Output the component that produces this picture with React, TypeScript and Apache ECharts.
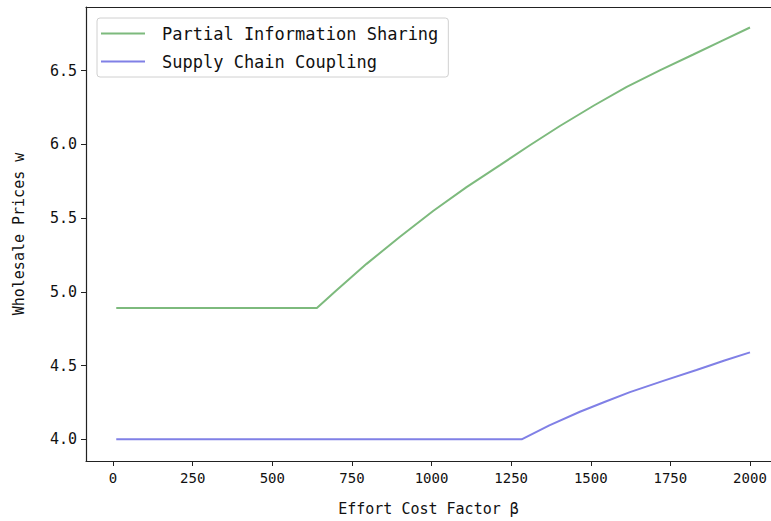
import React, { useEffect, useRef } from "react";
import * as echarts from "echarts";

const greenBeta = [10, 640, 700, 796, 900, 1006, 1110, 1215, 1310, 1403, 1510, 1613, 1720, 1822, 1910, 2000];
const greenW = [4.89, 4.89, 5.007, 5.19, 5.372, 5.55, 5.71, 5.86, 5.996, 6.125, 6.264, 6.39, 6.506, 6.61, 6.701, 6.793];
const blueBeta = [10, 1283, 1370, 1466, 1545, 1623, 1730, 1832, 1920, 2000];
const blueW = [4.0, 4.0, 4.095, 4.187, 4.255, 4.32, 4.398, 4.47, 4.535, 4.59];
const xTicks = [0, 250, 500, 750, 1000, 1250, 1500, 1750, 2000];
const yTicks = [4.0, 4.5, 5.0, 5.5, 6.0, 6.5];
const seriesNames = ["Partial Information Sharing", "Supply Chain Coupling"];

const FONT = "DejaVu Sans Mono";
const X_MIN = -85;
const X_MAX = 2066;

export default function App() {
  const ref = useRef<HTMLDivElement>(null);
  useEffect(() => {
    if (!ref.current) return;
    const chart = echarts.init(ref.current, null, { renderer: "svg" });
    chart.setOption({
      animation: false,
      backgroundColor: "#ffffff",
      grid: {
        left: 86,
        top: 7,
        bottom: 60,
        right: 0,
        show: false,
      },
      legend: {
        orient: "vertical",
        left: 97,
        top: 18,
        padding: [7, 10, 7, 4],
        itemWidth: 44,
        itemHeight: 2,
        itemGap: 11,
        borderColor: "#d0d0d0",
        borderWidth: 1,
        borderRadius: 3,
        backgroundColor: "#fff",
        icon: "rect",
        textStyle: { fontFamily: FONT, fontSize: 17, color: "#111", padding: [0, 0, 0, 12] },
        data: seriesNames,
      },
      xAxis: [
        {
          type: "value",
          min: X_MIN,
          max: X_MAX,
          name: "Effort Cost Factor β",
          nameLocation: "middle",
          nameGap: 40,
          nameTextStyle: { fontFamily: FONT, fontSize: 15, color: "#111" },
          splitLine: { show: false },
          axisLine: { onZero: false, lineStyle: { color: "#222", width: 1.2 } },
          axisTick: { show: true, length: 5, lineStyle: { color: "#222" }, customValues: xTicks },
          axisLabel: {
            fontFamily: FONT,
            fontSize: 14,
            color: "#111",
            margin: 10,
            customValues: xTicks,
            formatter: (v: number) => String(v),
          },
        },
        {
          type: "value",
          position: "top",
          min: X_MIN,
          max: X_MAX,
          splitLine: { show: false },
          axisLine: { show: true, onZero: false, lineStyle: { color: "#222", width: 1.2 } },
          axisTick: { show: false },
          axisLabel: { show: false },
        },
      ],
      yAxis: {
        type: "value",
        min: 3.853,
        max: 6.932,
        name: "Wholesale Prices w",
        nameLocation: "middle",
        nameGap: 60,
        nameTextStyle: { fontFamily: FONT, fontSize: 15, color: "#111" },
        splitLine: { show: false },
        axisLine: { show: true, onZero: false, lineStyle: { color: "#222", width: 1.2 } },
        axisTick: { show: true, length: 5, lineStyle: { color: "#222" }, customValues: yTicks },
        axisLabel: {
          fontFamily: FONT,
          fontSize: 15,
          color: "#111",
          margin: 9,
          customValues: yTicks,
          formatter: (v: number) => v.toFixed(1),
        },
      },
      series: [
        {
          name: seriesNames[0],
          type: "line",
          symbol: "none",
          xAxisIndex: 0,
          data: greenBeta.map((b, i) => [b, greenW[i]]),
          lineStyle: { color: "#7dba7d", width: 2 },
          itemStyle: { color: "#7dba7d" },
        },
        {
          name: seriesNames[1],
          type: "line",
          symbol: "none",
          xAxisIndex: 0,
          data: blueBeta.map((b, i) => [b, blueW[i]]),
          lineStyle: { color: "#8080e6", width: 2 },
          itemStyle: { color: "#8080e6" },
        },
      ],
    });
    return () => chart.dispose();
  }, []);
  return <div ref={ref} style={{ width: 771, height: 521, position: "absolute", left: 0, top: 0 }} />;
}
